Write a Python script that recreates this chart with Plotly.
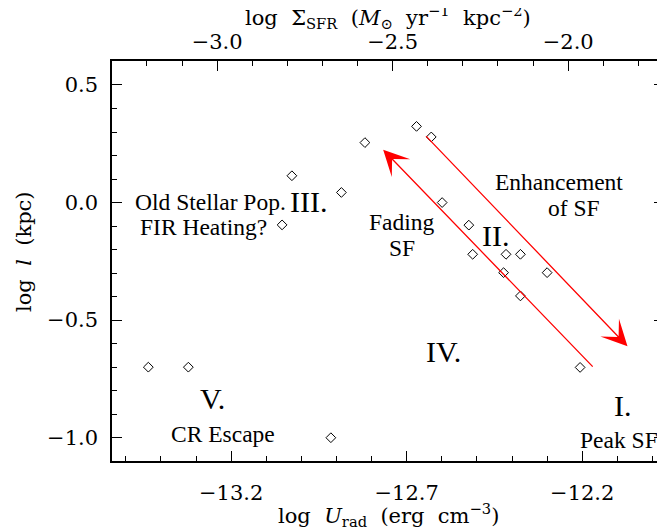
import plotly.graph_objects as go

# ---- data (log U_rad, log l) ----
log_urad = [-13.436, -13.322, -12.916, -13.055, -13.027, -12.886, -12.819,
            -12.672, -12.630, -12.599, -12.523, -12.512, -12.417, -12.376,
            -12.424, -12.300, -12.376, -12.206]
log_l = [-0.70, -0.70, -1.00, -0.095, 0.114, 0.043, 0.255,
         0.324, 0.279, 0.0, -0.096, -0.220, -0.220, -0.220,
         -0.298, -0.298, -0.397, -0.701]

# axis settings
x_range = [-13.5395, -11.967]
y_range = [-1.099, 0.602]
sigma_offset = 10.24          # log Sigma_SFR = log U_rad + offset
x_ticks = [-13.2, -12.7, -12.2]
y_ticks = [0.5, 0.0, -0.5, -1.0]
sigma_ticks = [-3.0, -2.5, -2.0]

# arrows: (tail_x, tail_y, head_x, head_y)
arrow_enh = (-12.649, 0.289, -12.071, -0.611)
arrow_fade = (-12.166, -0.704, -12.767, 0.225)

# text labels: (text, x, y, size)
labels = [
    ("Enhancement", -12.265, 0.088, 23.5),
    ("of SF", -12.223, -0.023, 23.5),
    ("Fading", -12.712, -0.082, 23.5),
    ("SF", -12.714, -0.193, 23.5),
    ("II.", -12.447, -0.138, 30),
    ("III.", -12.981, 0.004, 30),
    ("Old Stellar Pop.", -13.260, 0.004, 23.5),
    ("FIR Heating?", -13.280, -0.102, 23.5),
    ("IV.", -12.595, -0.635, 30),
    ("V.", -13.253, -0.833, 30),
    ("CR Escape", -13.224, -0.983, 23.5),
    ("I.", -12.084, -0.862, 30),
    ("Peak SF", -12.095, -1.011, 23.5),
]


def fmt(v):
    return f"{v:.1f}".replace("-", "\u2212")


fig = go.Figure()
fig.add_trace(go.Scatter(
    x=log_urad, y=log_l, mode="markers",
    marker=dict(symbol="diamond-open", size=7.5, color="black",
                line=dict(width=1, color="black")),
    showlegend=False, hoverinfo="skip"))
# hidden trace to anchor the top axis
fig.add_trace(go.Scatter(
    x=[x_range[0] + sigma_offset, x_range[1] + sigma_offset], y=y_range,
    xaxis="x2", mode="markers", marker=dict(opacity=0),
    showlegend=False, hoverinfo="skip"))

tickfont = dict(family="DejaVu Serif", size=21, color="black")
common = dict(ticks="inside", ticklen=10, tickwidth=1, tickcolor="black",
              showline=True, linecolor="black", linewidth=1.5,
              showgrid=False, zeroline=False, tickfont=tickfont, automargin=False)
# page has an 8px body margin, so the figure is sized/offset to compensate
fig.update_layout(
    width=657, height=521,
    margin=dict(l=104, r=1, t=53, b=68, autoexpand=False),
    paper_bgcolor="white", plot_bgcolor="white",
    xaxis=dict(range=x_range, tickvals=x_ticks, ticktext=[fmt(v) for v in x_ticks],
               minor=dict(dtick=0.1, tick0=-13.2, ticks="inside", ticklen=5, tickwidth=1, tickcolor="black"),
               mirror=False, ticklabelstandoff=12, **common),
    xaxis2=dict(range=[x_range[0] + sigma_offset, x_range[1] + sigma_offset],
                overlaying="x", side="top",
                tickvals=sigma_ticks, ticktext=[fmt(v) for v in sigma_ticks],
                minor=dict(dtick=0.1, tick0=-3.0, ticks="inside", ticklen=5, tickwidth=1, tickcolor="black"),
                ticklabelstandoff=2, **common),
    yaxis=dict(range=y_range, tickvals=y_ticks, ticktext=[fmt(v) for v in y_ticks],
               minor=dict(dtick=0.1, tick0=0, ticks="inside", ticklen=5, tickwidth=1, tickcolor="black"),
               mirror="ticks", ticklabelstandoff=8, **common),
)

# axis titles
title_font = dict(family="DejaVu Serif", size=21, color="black")
fig.add_annotation(text="log  <i>U</i><sub>rad</sub>  (erg  cm<sup>\u22123</sup>)",
                   xref="paper", yref="paper", x=0.5, y=0, yshift=-54, yanchor="middle",
                   xanchor="center", showarrow=False, font=title_font)
fig.add_annotation(text="log  \u03a3<sub>SFR</sub>  (<i>M</i><sub>\u2299</sub>  yr<sup>\u22121</sup>  kpc<sup>\u22122</sup>)",
                   xref="paper", yref="paper", x=0.5, y=1.0, yshift=44, yanchor="middle",
                   xanchor="center", showarrow=False, font=title_font)
fig.add_annotation(text="log  <i>l</i>  (kpc)", textangle=-90,
                   xref="paper", yref="paper", x=0, xshift=-88, y=0.5, yshift=9,
                   xanchor="center", yanchor="middle", showarrow=False, font=title_font)

# arrows
for tx, ty, hx, hy in (arrow_enh, arrow_fade):
    fig.add_annotation(x=hx, y=hy, ax=tx, ay=ty, xref="x", yref="y",
                       axref="x", ayref="y", text="", showarrow=True,
                       arrowhead=3, arrowsize=3.3, arrowwidth=1.3,
                       arrowcolor="#ff0000", standoff=0, startstandoff=0)

# text labels
for txt, lx, ly, sz in labels:
    fig.add_annotation(x=lx, y=ly, xref="x", yref="y", text=txt, showarrow=False,
                       font=dict(family="Liberation Serif", size=sz, color="black"),
                       xanchor="center", yanchor="middle")

fig.write_html("out.html")
